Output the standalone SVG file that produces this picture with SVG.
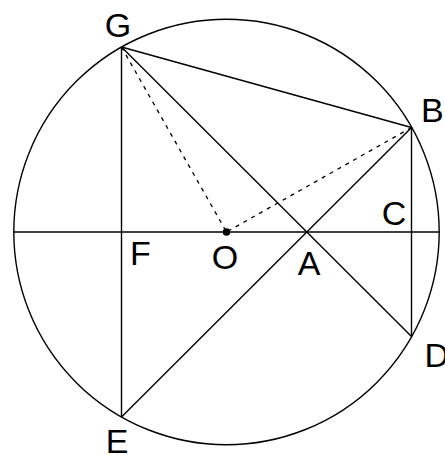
<svg xmlns="http://www.w3.org/2000/svg" width="445" height="455" viewBox="0 0 445 455">
<style>
.ln{stroke:#000;stroke-width:1.4;fill:none}
.dash{stroke:#000;stroke-width:1.3;fill:none;stroke-dasharray:4 5}
.lbl{font-family:"Liberation Sans",Arial,sans-serif;font-size:34px;fill:#000}
</style>
<rect width="445" height="455" fill="#fff"/>
<g id="circle"><circle class="ln" cx="226.5" cy="232" r="212.7"/></g>
<g id="connectors">
<line class="ln" x1="13.8" y1="232" x2="439.2" y2="232"/>
<line class="ln" x1="121.5" y1="47" x2="411.5" y2="127.5"/>
<line class="ln" x1="121.5" y1="47" x2="121.5" y2="417"/>
<line class="ln" x1="121.5" y1="47" x2="411.5" y2="336.5"/>
<line class="ln" x1="411.5" y1="127.5" x2="411.5" y2="336.5"/>
<line class="ln" x1="411.5" y1="127.5" x2="121.5" y2="417"/>
<line class="dash" x1="121.5" y1="47" x2="226.5" y2="232"/>
<line class="dash" x1="411.5" y1="127.5" x2="226.5" y2="232"/>
</g>
<g id="O"><circle cx="226.5" cy="232" r="3.8" fill="#000"/><text class="lbl" x="225" y="269" text-anchor="middle">O</text></g>
<g id="G"><text class="lbl" x="118" y="37" text-anchor="middle">G</text></g>
<g id="B"><text class="lbl" x="421" y="122">B</text></g>
<g id="C"><text class="lbl" x="394" y="225" text-anchor="middle">C</text></g>
<g id="D"><text class="lbl" x="424.5" y="367">D</text></g>
<g id="E"><text class="lbl" x="117" y="453" text-anchor="middle">E</text></g>
<g id="F"><text class="lbl" x="130" y="265">F</text></g>
<g id="A"><text class="lbl" x="309" y="275" text-anchor="middle">A</text></g>
</svg>
